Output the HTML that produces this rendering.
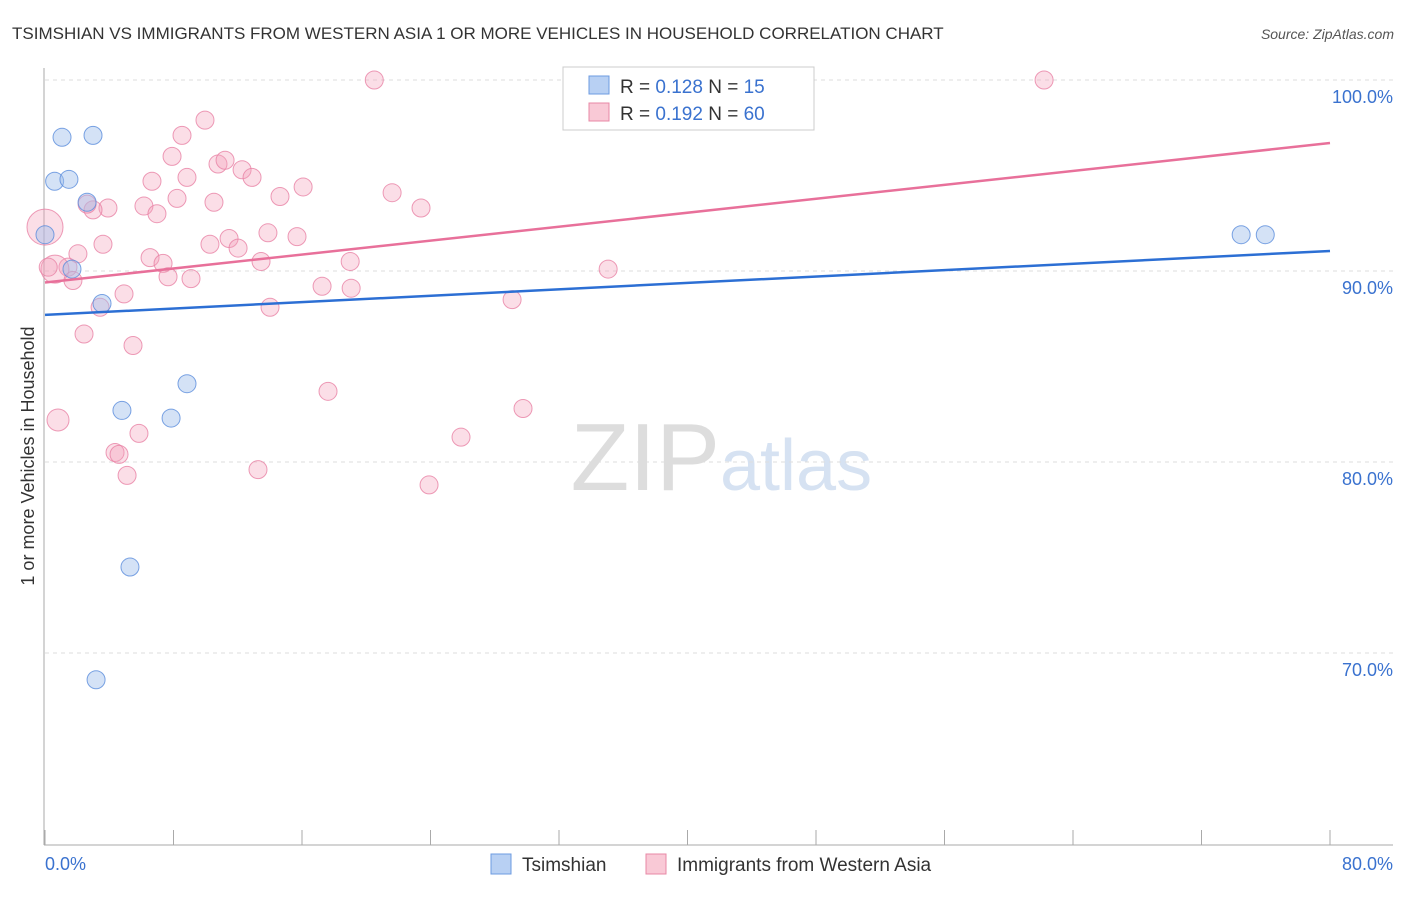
<!DOCTYPE html>
<html><head><meta charset="utf-8"><style>
body{margin:0;background:#fff;font-family:"Liberation Sans",sans-serif}
svg text{font-family:"Liberation Sans",sans-serif}
</style></head><body>
<svg id="c" width="1406" height="892" viewBox="0 0 1406 892" xmlns="http://www.w3.org/2000/svg">
<text x="12" y="39" font-size="17" fill="#333">TSIMSHIAN VS IMMIGRANTS FROM WESTERN ASIA 1 OR MORE VEHICLES IN HOUSEHOLD CORRELATION CHART</text>
<text x="1394" y="39" font-size="14" fill="#555" font-style="italic" text-anchor="end">Source: ZipAtlas.com</text>
<text x="720" y="490" font-size="96" fill="#ddd" font-family="Liberation Serif" text-anchor="end">ZIP</text>
<text x="720" y="490" font-size="72" fill="#d6e2f2">atlas</text>
<text x="34" y="456" font-size="18" fill="#333" text-anchor="middle" transform="rotate(-90 34 456)">1 or more Vehicles in Household</text>
<g id="grid"></g><g id="axes"></g><g id="pts"></g><g id="trend"></g>
<g>
<rect x="563" y="67" width="251" height="63" fill="#fff" stroke="#ccc"/>
<rect x="589" y="76" width="20" height="18" fill="#b8d0f3" stroke="#6d9be0"/>
<text x="620" y="93" font-size="19" fill="#333">R = <tspan fill="#3a72cf">0.128</tspan>   N =  <tspan fill="#3a72cf">15</tspan></text>
<rect x="589" y="103" width="20" height="18" fill="#f9c9d6" stroke="#e888a6"/>
<text x="620" y="120" font-size="19" fill="#333">R = <tspan fill="#3a72cf">0.192</tspan>   N = <tspan fill="#3a72cf">60</tspan></text>
</g>
<g>
<rect x="491" y="854" width="20" height="20" fill="#b8d0f3" stroke="#6d9be0"/>
<text x="522" y="871" font-size="19" fill="#333">Tsimshian</text>
<rect x="646" y="854" width="20" height="20" fill="#f9c9d6" stroke="#e888a6"/>
<text x="677" y="871" font-size="19" fill="#333">Immigrants from Western Asia</text>
</g>
</svg>
<script>
const yTicks=[100,90,80,70];
const xTickLabels=["0.0%","80.0%"];
const blueX=[0,0.6,1.06,1.49,1.68,2.62,2.99,3.55,4.79,5.29,3.18,7.85,8.84,74.47,75.97];
const blueY=[91.9,94.7,97.0,94.8,90.1,93.6,97.1,88.3,82.7,74.5,68.6,82.3,84.1,91.9,91.9];
const pinkX=[20.5,62.2,9.96,8.53,7.91,10.77,11.21,12.27,12.89,6.66,8.84,16.07,21.61,14.63,8.22,6.16,10.52,23.41,3.92,2.99,6.97,0,13.88,15.69,11.46,10.27,12.02,3.61,2.05,6.54,1.43,7.35,13.45,19.0,0.62,1.74,7.66,9.09,35.06,17.25,19.06,4.92,3.43,14.01,29.08,2.43,5.48,17.62,29.76,0.81,25.9,5.85,4.36,4.61,13.26,5.11,23.91,42.3,2.62,0.2];
const pinkY=[100,100,97.9,97.1,96.0,95.6,95.8,95.3,94.9,94.7,94.9,94.4,94.1,93.9,93.8,93.4,93.6,93.3,93.3,93.2,93.0,92.3,92.0,91.8,91.7,91.4,91.2,91.4,90.9,90.7,90.2,90.4,90.5,90.5,90.1,89.5,89.7,89.6,90.1,89.2,89.1,88.8,88.1,88.1,88.5,86.7,86.1,83.7,82.8,82.2,81.3,81.5,80.5,80.4,79.6,79.3,78.8,100,93.5,90.2];
const pinkR=[9,9,9,9,9,9,9,9,9,9,9,9,9,9,9,9,9,9,9,9,9,18,9,9,9,9,9,9,9,9,9,9,9,9,14,9,9,9,9,9,9,9,9,9,9,9,9,9,9,11,9,9,9,9,9,9,9,9,9,9];
const blueTrend=[87.7,91.05];
const pinkTrend=[89.4,96.7];
const X0=45,X1=1330,Y100=80,PX10=191;
const sx=v=>X0+(v/80)*(X1-X0);
const sy=v=>Y100+(100-v)/10*PX10;
const NS="http://www.w3.org/2000/svg";
function mk(t,a,p){const e=document.createElementNS(NS,t);for(const k in a)e.setAttribute(k,a[k]);document.getElementById(p).appendChild(e);return e;}
yTicks.forEach(t=>{
 const l=mk('line',{x1:45,x2:1393,y1:sy(t),y2:sy(t),stroke:'#ddd','stroke-dasharray':'4,4'},'grid');
 
 
 const tx=mk('text',{x:1393,y:sy(t)+23,'font-size':18,fill:'#3a72cf','text-anchor':'end'},'grid');
 tx.textContent=t.toFixed(1)+'%';
 
 
});
let a=mk('line',{x1:44,x2:44,y1:68,y2:845,stroke:'#aaa'},'axes');


a=mk('line',{x1:44,x2:1393,y1:845,y2:845,stroke:'#aaa'},'axes');


for(let i=0;i<=10;i++){const x=sx(i*8);const t=mk('line',{x1:x,x2:x,y1:830,y2:845,stroke:'#aaa'},'axes');
 
 }
[[0,'start'],[80,'end']].forEach((d,i)=>{const t=mk('text',{x:i?1393:45,y:870,'font-size':18,fill:'#3a72cf','text-anchor':d[1]},'axes');t.textContent=xTickLabels[i];
 
 });
pinkX.forEach((x,i)=>{const c=mk('circle',{cx:sx(x),cy:sy(pinkY[i]),r:pinkR[i],fill:'rgba(244,160,185,0.35)',stroke:'rgba(232,130,165,0.8)','stroke-width':1},'pts');
 
 });
blueX.forEach((x,i)=>{const c=mk('circle',{cx:sx(x),cy:sy(blueY[i]),r:9,fill:'rgba(160,190,235,0.45)',stroke:'rgba(90,140,220,0.8)','stroke-width':1},'pts');
 
 });
let l=mk('line',{x1:sx(0),x2:sx(80),y1:sy(pinkTrend[0]),y2:sy(pinkTrend[1]),stroke:'#e8709a','stroke-width':2.5},'trend');


l=mk('line',{x1:sx(0),x2:sx(80),y1:sy(blueTrend[0]),y2:sy(blueTrend[1]),stroke:'#2c6fd4','stroke-width':2.5},'trend');


</script>
</body></html>
